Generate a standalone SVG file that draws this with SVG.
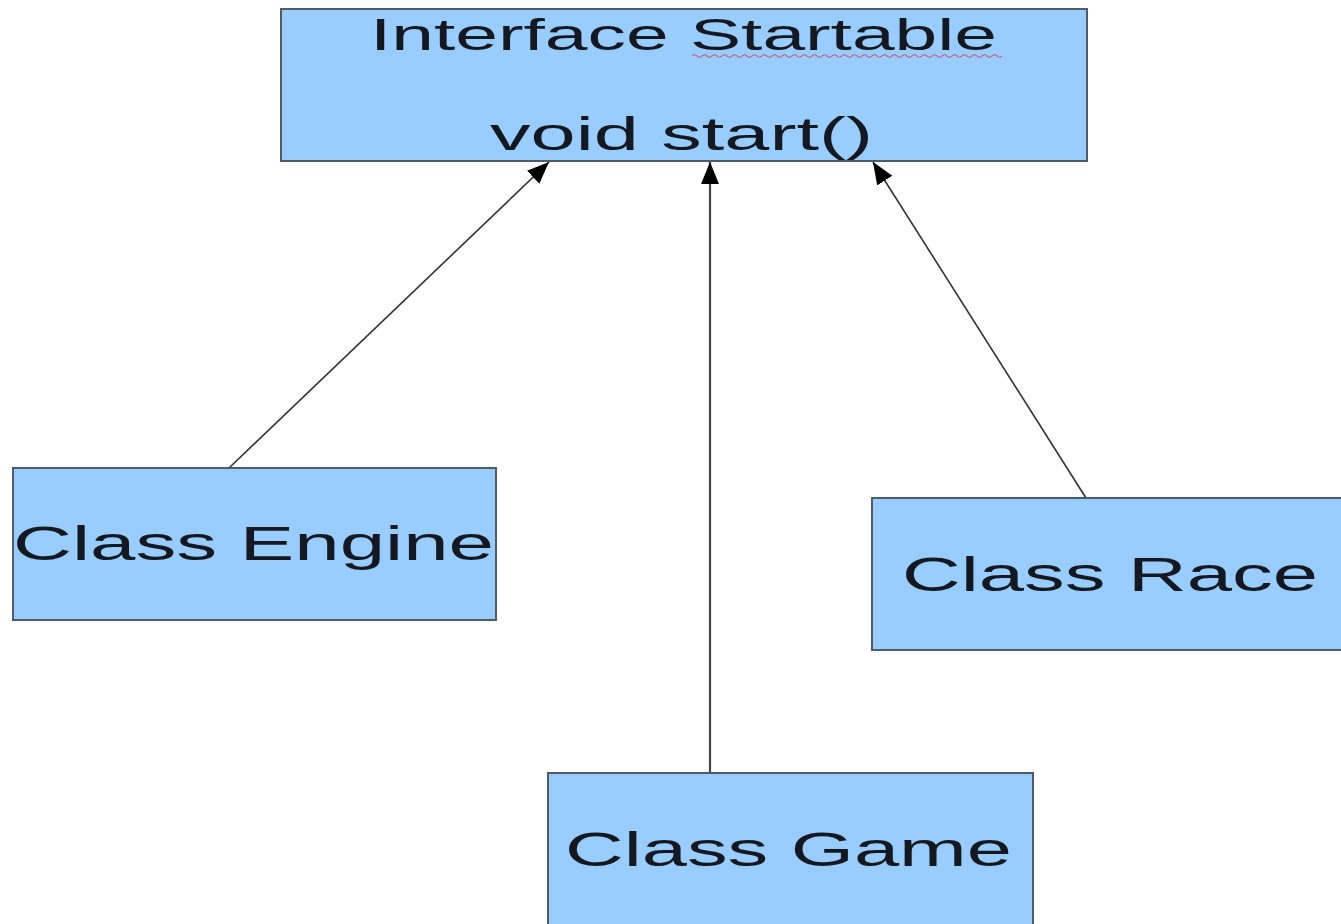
<svg xmlns="http://www.w3.org/2000/svg" width="1341" height="924" viewBox="0 0 1341 924">
  <style>
    .box { fill: #99ccff; stroke: #4f5b66; stroke-width: 2; }
    .lbl { font-family: "Liberation Sans", Arial, sans-serif; fill: #141820; }
    .conn { stroke: #333333; stroke-width: 1.6; fill: none; marker-end: url(#arrow); }
  </style>
  <defs>
    <marker id="arrow" markerUnits="userSpaceOnUse" markerWidth="24" markerHeight="20" refX="22" refY="9" orient="auto">
      <path d="M0,0 L22,9 L0,18 z" fill="#000000"/>
    </marker>
  </defs>
  <rect width="1341" height="924" fill="#ffffff"/>

  <g id="connectors">
    <line class="conn" x1="229" y1="468" x2="549" y2="162"/>
    <line class="conn" x1="710" y1="773" x2="710" y2="162" style="stroke-width:2.2;stroke:#444"/>
    <line class="conn" x1="1086" y1="498" x2="873" y2="162"/>
  </g>

  <g id="startable">
    <rect class="box" x="281" y="9" width="806" height="152"/>
    <text class="lbl" x="370" y="50" font-size="45" textLength="627" lengthAdjust="spacingAndGlyphs">Interface Startable</text>
    <path d="M692,56 q2.5,-3 5,0 t5,0 t5,0 t5,0 t5,0 t5,0 t5,0 t5,0 t5,0 t5,0 t5,0 t5,0 t5,0 t5,0 t5,0 t5,0 t5,0 t5,0 t5,0 t5,0 t5,0 t5,0 t5,0 t5,0 t5,0 t5,0 t5,0 t5,0 t5,0 t5,0 t5,0 t5,0 t5,0 t5,0 t5,0 t5,0 t5,0 t5,0 t5,0 t5,0 t5,0 t5,0 t5,0 t5,0 t5,0 t5,0 t5,0 t5,0 t5,0 t5,0 t5,0 t5,0 t5,0 t5,0 t5,0 t5,0 t5,0 t5,0 t5,0 t5,0 t5,0 t5,0" fill="none" stroke="#d0405a" stroke-width="1"/>
    <text class="lbl" x="490" y="150" font-size="47" textLength="383" lengthAdjust="spacingAndGlyphs">void start()</text>
  </g>

  <g id="engine">
    <rect class="box" x="13" y="468" width="483" height="152"/>
    <text class="lbl" x="13" y="560" font-size="47.5" textLength="481" lengthAdjust="spacingAndGlyphs">Class Engine</text>
  </g>

  <g id="race">
    <rect class="box" x="872" y="498" width="480" height="152"/>
    <text class="lbl" x="902" y="591" font-size="47.5" textLength="416" lengthAdjust="spacingAndGlyphs">Class Race</text>
  </g>

  <g id="game">
    <rect class="box" x="548" y="773" width="485" height="160"/>
    <text class="lbl" x="565" y="866" font-size="47.5" textLength="447" lengthAdjust="spacingAndGlyphs">Class Game</text>
  </g>
</svg>
